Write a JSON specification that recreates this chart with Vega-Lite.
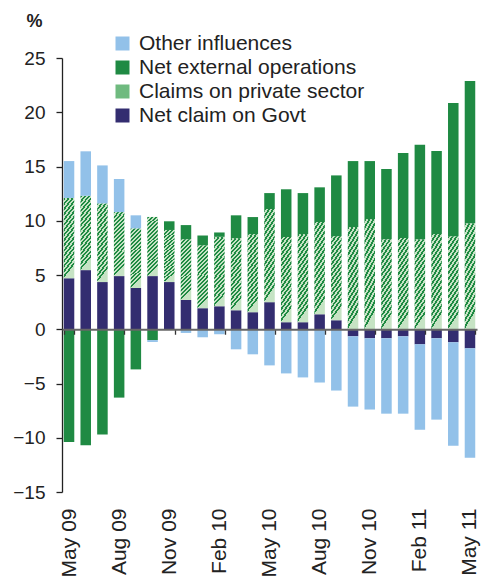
{
  "$schema": "https://vega.github.io/schema/vega-lite/v6.json",
  "width": 415,
  "height": 434,
  "autosize": {"type": "none"},
  "padding": {"left": 62, "top": 58, "right": 4, "bottom": 91},
  "background": "white",
  "config": {
    "view": {"stroke": null},
    "font": "Liberation Sans",
    "legend": {
      "orient": "none",
      "legendX": 50,
      "legendY": -25,
      "padding": 0,
      "labelFont": "Liberation Sans",
      "labelFontSize": 21,
      "labelColor": "#222222",
      "labelLimit": 400,
      "labelOffset": 6,
      "symbolType": "square",
      "symbolSize": 196,
      "symbolStrokeWidth": 0,
      "rowPadding": 2
    }
  },
  "data": {
    "values": [
      {"month": "May 09", "Net claim on Govt": 4.7, "Claims on private sector": 7.4, "Net external operations": -10.4, "Other influences": 3.4},
      {"month": "Jun 09", "Net claim on Govt": 5.45, "Claims on private sector": 6.85, "Net external operations": -10.7, "Other influences": 4.1},
      {"month": "Jul 09", "Net claim on Govt": 4.35, "Claims on private sector": 7.25, "Net external operations": -9.7, "Other influences": 3.5},
      {"month": "Aug 09", "Net claim on Govt": 4.9, "Claims on private sector": 5.9, "Net external operations": -6.3, "Other influences": 3.05},
      {"month": "Sep 09", "Net claim on Govt": 3.8, "Claims on private sector": 5.5, "Net external operations": -3.7, "Other influences": 1.2},
      {"month": "Oct 09", "Net claim on Govt": 4.9, "Claims on private sector": 5.45, "Net external operations": -1.0, "Other influences": -0.17},
      {"month": "Nov 09", "Net claim on Govt": 4.35, "Claims on private sector": 4.8, "Net external operations": 0.8, "Other influences": 0},
      {"month": "Dec 09", "Net claim on Govt": 2.7, "Claims on private sector": 5.6, "Net external operations": 1.3, "Other influences": -0.34},
      {"month": "Jan 10", "Net claim on Govt": 1.94, "Claims on private sector": 5.8, "Net external operations": 0.9, "Other influences": -0.74},
      {"month": "Feb 10", "Net claim on Govt": 2.12, "Claims on private sector": 6.4, "Net external operations": 0.4, "Other influences": -0.46},
      {"month": "Mar 10", "Net claim on Govt": 1.75, "Claims on private sector": 6.65, "Net external operations": 2.1, "Other influences": -1.85},
      {"month": "Apr 10", "Net claim on Govt": 1.57, "Claims on private sector": 7.2, "Net external operations": 1.57, "Other influences": -2.31},
      {"month": "May 10", "Net claim on Govt": 2.5, "Claims on private sector": 8.58, "Net external operations": 1.47, "Other influences": -3.33},
      {"month": "Jun 10", "Net claim on Govt": 0.65, "Claims on private sector": 7.85, "Net external operations": 4.4, "Other influences": -4.07},
      {"month": "Jul 10", "Net claim on Govt": 0.65, "Claims on private sector": 8.12, "Net external operations": 3.78, "Other influences": -4.44},
      {"month": "Aug 10", "Net claim on Govt": 1.38, "Claims on private sector": 8.5, "Net external operations": 3.2, "Other influences": -4.91},
      {"month": "Sep 10", "Net claim on Govt": 0.83, "Claims on private sector": 7.75, "Net external operations": 5.6, "Other influences": -5.65},
      {"month": "Oct 10", "Net claim on Govt": -0.65, "Claims on private sector": 9.42, "Net external operations": 6.08, "Other influences": -6.48},
      {"month": "Nov 10", "Net claim on Govt": -0.83, "Claims on private sector": 10.15, "Net external operations": 5.35, "Other influences": -6.57},
      {"month": "Dec 10", "Net claim on Govt": -0.83, "Claims on private sector": 8.3, "Net external operations": 6.47, "Other influences": -6.95},
      {"month": "Jan 11", "Net claim on Govt": -0.65, "Claims on private sector": 8.4, "Net external operations": 7.85, "Other influences": -7.13},
      {"month": "Feb 11", "Net claim on Govt": -1.39, "Claims on private sector": 8.3, "Net external operations": 8.7, "Other influences": -7.87},
      {"month": "Mar 11", "Net claim on Govt": -0.83, "Claims on private sector": 8.77, "Net external operations": 7.66, "Other influences": -7.5},
      {"month": "Apr 11", "Net claim on Govt": -1.2, "Claims on private sector": 8.58, "Net external operations": 12.28, "Other influences": -9.54},
      {"month": "May 11", "Net claim on Govt": -1.76, "Claims on private sector": 9.78, "Net external operations": 13.1, "Other influences": -10.09}
    ]
  },
  "transform": [
    {"fold": ["Net claim on Govt", "Claims on private sector", "Net external operations", "Other influences"], "as": ["series", "value"]},
    {"calculate": "indexof(['Net claim on Govt','Claims on private sector','Net external operations','Other influences'], datum.series)", "as": "ord"}
  ],
  "mark": {"type": "bar"},
  "encoding": {
    "x": {
      "field": "month",
      "type": "ordinal",
      "sort": null,
      "scale": {"paddingInner": 0.37, "paddingOuter": 0.105},
      "axis": {
        "values": ["May 09", "Aug 09", "Nov 09", "Feb 10", "May 10", "Aug 10", "Nov 10", "Feb 11", "May 11"],
        "title": null,
        "orient": "bottom",
        "offset": -162.75,
        "zindex": 1,
        "domainColor": "#666666",
        "domainWidth": 2,
        "tickColor": "#333333",
        "tickWidth": 1.3,
        "tickSize": 5,
        "tickBand": "extent",
        "labelAngle": -90,
        "labelPadding": 173.75,
        "labelFontSize": 21,
        "labelColor": "#222222",
        "labelOverlap": false
      }
    },
    "y": {
      "field": "value",
      "type": "quantitative",
      "stack": "zero",
      "scale": {"domain": [-15, 25], "nice": false, "zero": false},
      "axis": {
        "values": [-15, -10, -5, 0, 5, 10, 15, 20, 25],
        "grid": false,
        "domainColor": "#222222",
        "domainWidth": 1.3,
        "tickColor": "#222222",
        "tickWidth": 1.3,
        "tickSize": 6,
        "labelPadding": 11,
        "labelFontSize": 19,
        "labelColor": "#222222",
        "title": "%",
        "titleAngle": 0,
        "titleX": -36,
        "titleY": -46,
        "titleAlign": "left",
        "titleBaseline": "top",
        "titleFontSize": 18,
        "titleFontWeight": "bold",
        "titleColor": "#222222"
      }
    },
    "color": {
      "field": "series",
      "type": "nominal",
      "scale": {
        "domain": ["Other influences", "Net external operations", "Claims on private sector", "Net claim on Govt"],
        "range": ["#92c1e9", "#1f8a43", "#6fba7f", "#332d70"]
      },
      "condition": {
        "test": "datum.series === 'Claims on private sector'",
        "value": {
          "gradient": "linear", "x1": 0, "y1": 0, "x2": 0.17, "y2": 1,
          "stops": [
            {"offset": 0, "color": "#1f8a43"},
            {"offset": 0.03125, "color": "#1f8a43"}, {"offset": 0.03125, "color": "#c6e3c4"},
            {"offset": 0.0625, "color": "#c6e3c4"}, {"offset": 0.0625, "color": "#1f8a43"},
            {"offset": 0.09375, "color": "#1f8a43"}, {"offset": 0.09375, "color": "#c6e3c4"},
            {"offset": 0.125, "color": "#c6e3c4"}, {"offset": 0.125, "color": "#1f8a43"},
            {"offset": 0.15625, "color": "#1f8a43"}, {"offset": 0.15625, "color": "#c6e3c4"},
            {"offset": 0.1875, "color": "#c6e3c4"}, {"offset": 0.1875, "color": "#1f8a43"},
            {"offset": 0.21875, "color": "#1f8a43"}, {"offset": 0.21875, "color": "#c6e3c4"},
            {"offset": 0.25, "color": "#c6e3c4"}, {"offset": 0.25, "color": "#1f8a43"},
            {"offset": 0.28125, "color": "#1f8a43"}, {"offset": 0.28125, "color": "#c6e3c4"},
            {"offset": 0.3125, "color": "#c6e3c4"}, {"offset": 0.3125, "color": "#1f8a43"},
            {"offset": 0.34375, "color": "#1f8a43"}, {"offset": 0.34375, "color": "#c6e3c4"},
            {"offset": 0.375, "color": "#c6e3c4"}, {"offset": 0.375, "color": "#1f8a43"},
            {"offset": 0.40625, "color": "#1f8a43"}, {"offset": 0.40625, "color": "#c6e3c4"},
            {"offset": 0.4375, "color": "#c6e3c4"}, {"offset": 0.4375, "color": "#1f8a43"},
            {"offset": 0.46875, "color": "#1f8a43"}, {"offset": 0.46875, "color": "#c6e3c4"},
            {"offset": 0.5, "color": "#c6e3c4"}, {"offset": 0.5, "color": "#1f8a43"},
            {"offset": 0.53125, "color": "#1f8a43"}, {"offset": 0.53125, "color": "#c6e3c4"},
            {"offset": 0.5625, "color": "#c6e3c4"}, {"offset": 0.5625, "color": "#1f8a43"},
            {"offset": 0.59375, "color": "#1f8a43"}, {"offset": 0.59375, "color": "#c6e3c4"},
            {"offset": 0.625, "color": "#c6e3c4"}, {"offset": 0.625, "color": "#1f8a43"},
            {"offset": 0.65625, "color": "#1f8a43"}, {"offset": 0.65625, "color": "#c6e3c4"},
            {"offset": 0.6875, "color": "#c6e3c4"}, {"offset": 0.6875, "color": "#1f8a43"},
            {"offset": 0.71875, "color": "#1f8a43"}, {"offset": 0.71875, "color": "#c6e3c4"},
            {"offset": 0.75, "color": "#c6e3c4"}, {"offset": 0.75, "color": "#1f8a43"},
            {"offset": 0.78125, "color": "#1f8a43"}, {"offset": 0.78125, "color": "#c6e3c4"},
            {"offset": 0.8125, "color": "#c6e3c4"}, {"offset": 0.8125, "color": "#1f8a43"},
            {"offset": 0.84375, "color": "#1f8a43"}, {"offset": 0.84375, "color": "#c6e3c4"},
            {"offset": 0.875, "color": "#c6e3c4"}, {"offset": 0.875, "color": "#1f8a43"},
            {"offset": 0.90625, "color": "#1f8a43"}, {"offset": 0.90625, "color": "#c6e3c4"},
            {"offset": 0.9375, "color": "#c6e3c4"}, {"offset": 0.9375, "color": "#1f8a43"},
            {"offset": 0.96875, "color": "#1f8a43"}, {"offset": 0.96875, "color": "#c6e3c4"},
            {"offset": 1, "color": "#c6e3c4"}
          ]
        }
      },
      "legend": {
        "title": null,
        "encode": {
          "symbols": {
            "enter": {
              "fill": [
                {
                  "test": "datum.label === 'Claims on private sector'",
                  "value": {
                    "gradient": "linear", "x1": 0, "y1": 0, "x2": 1, "y2": 1,
                    "stops": [
                      {"offset": 0, "color": "#1f8a43"},
                      {"offset": 0.125, "color": "#1f8a43"}, {"offset": 0.125, "color": "#c6e3c4"},
                      {"offset": 0.25, "color": "#c6e3c4"}, {"offset": 0.25, "color": "#1f8a43"},
                      {"offset": 0.375, "color": "#1f8a43"}, {"offset": 0.375, "color": "#c6e3c4"},
                      {"offset": 0.5, "color": "#c6e3c4"}, {"offset": 0.5, "color": "#1f8a43"},
                      {"offset": 0.625, "color": "#1f8a43"}, {"offset": 0.625, "color": "#c6e3c4"},
                      {"offset": 0.75, "color": "#c6e3c4"}, {"offset": 0.75, "color": "#1f8a43"},
                      {"offset": 0.875, "color": "#1f8a43"}, {"offset": 0.875, "color": "#c6e3c4"},
                      {"offset": 1, "color": "#c6e3c4"}
                    ]
                  }
                },
                {"scale": "color", "field": "value"}
              ]
            },
            "update": {
              "fill": [
                {
                  "test": "datum.label === 'Claims on private sector'",
                  "value": {
                    "gradient": "linear", "x1": 0, "y1": 0, "x2": 1, "y2": 1,
                    "stops": [
                      {"offset": 0, "color": "#1f8a43"},
                      {"offset": 0.125, "color": "#1f8a43"}, {"offset": 0.125, "color": "#c6e3c4"},
                      {"offset": 0.25, "color": "#c6e3c4"}, {"offset": 0.25, "color": "#1f8a43"},
                      {"offset": 0.375, "color": "#1f8a43"}, {"offset": 0.375, "color": "#c6e3c4"},
                      {"offset": 0.5, "color": "#c6e3c4"}, {"offset": 0.5, "color": "#1f8a43"},
                      {"offset": 0.625, "color": "#1f8a43"}, {"offset": 0.625, "color": "#c6e3c4"},
                      {"offset": 0.75, "color": "#c6e3c4"}, {"offset": 0.75, "color": "#1f8a43"},
                      {"offset": 0.875, "color": "#1f8a43"}, {"offset": 0.875, "color": "#c6e3c4"},
                      {"offset": 1, "color": "#c6e3c4"}
                    ]
                  }
                },
                {"scale": "color", "field": "value"}
              ]
            }
          }
        }
      }
    },
    "order": {"field": "ord", "type": "quantitative"}
  }
}
